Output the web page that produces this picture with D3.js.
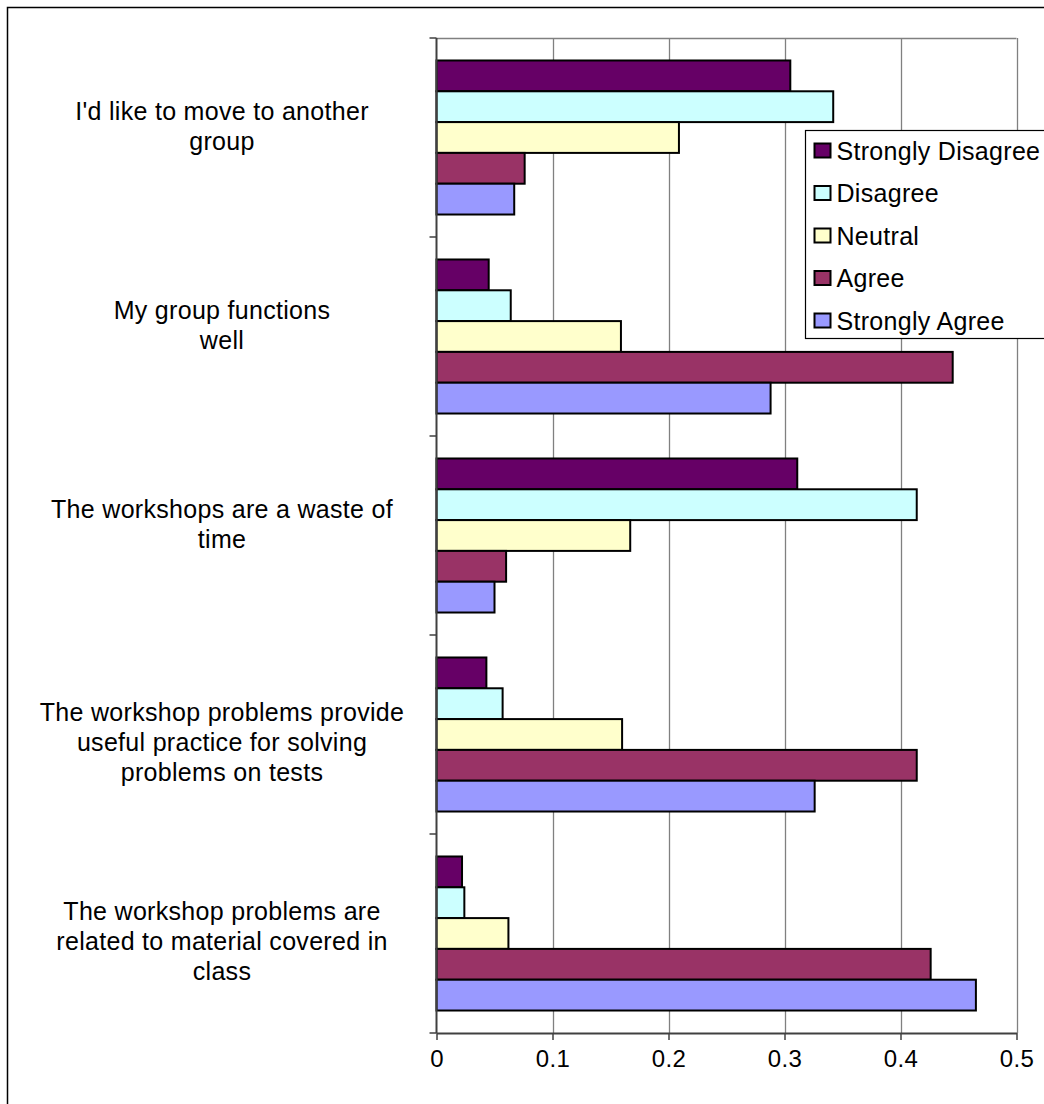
<!DOCTYPE html>
<html>
<head>
<meta charset="utf-8">
<script src="https://cdn.jsdelivr.net/npm/d3@7"></script>
<style>
    body { margin: 0; background: #fff; }
    text { font-family: Arial, "Liberation Sans", sans-serif; fill: #000; }
</style>
</head>
<body>
<div id="chart"></div>
<script>
// DATA
var categories = [
    "I'd like to move to another\ngroup",
    "My group functions\nwell",
    "The workshops are a waste of\ntime",
    "The workshop problems provide\nuseful practice for solving\nproblems on tests",
    "The workshop problems are\nrelated to material covered in\nclass"
];
var seriesNames = ["Strongly Disagree", "Disagree", "Neutral", "Agree", "Strongly Agree"];
var seriesColors = ["#660066", "#CCFFFF", "#FFFFCC", "#993366", "#9999FF"];

// one array per series, same order as categories
var stronglyDisagree = [0.305, 0.045, 0.311, 0.043, 0.022];
var disagree = [0.342, 0.064, 0.414, 0.057, 0.024];
var neutral = [0.209, 0.159, 0.167, 0.160, 0.062];
var agree = [0.076, 0.445, 0.060, 0.414, 0.426];
var stronglyAgree = [0.067, 0.288, 0.050, 0.326, 0.465];

var xTicks = [0, 0.1, 0.2, 0.3, 0.4, 0.5];
var xTickLabels = ["0", "0.1", "0.2", "0.3", "0.4", "0.5"];

function buildRows() {
    var values = [stronglyDisagree, disagree, neutral, agree, stronglyAgree];
    var res = [];
    categories.forEach((c, i) => {
        seriesNames.forEach((s, j) => {
            res.push({ category: c, series: s, value: values[j][i], color: seriesColors[j] });
        });
    });
    return res;
}

function main() {
    var rows = buildRows();

    var svg = d3.select("#chart")
        .append("svg")
        .attr("width", 1044)
        .attr("height", 1104);

    // outer chart border (runs off the right and bottom edges)
    svg.append("rect")
        .attr("x", 7.5)
        .attr("y", 7.5)
        .attr("width", 1060)
        .attr("height", 1110)
        .attr("fill", "none")
        .attr("stroke", "#000")
        .attr("stroke-width", 1.5);

    var left = 436.5, right = 1016.5, top = 38, bottom = 1033;

    var xScale = d3.scaleLinear()
        .domain([0, 0.5])
        .range([left, right]);

    var yScale = d3.scaleBand()
        .domain(categories)
        .range([top, bottom])
        .padding(0);

    var inner = d3.scaleBand()
        .domain(seriesNames)
        .range([0, yScale.bandwidth()])
        .paddingInner(0)
        .paddingOuter(0.73);

    var chart = svg.append("g").classed("chart", true);

    // gridlines
    chart.append("g")
        .selectAll("line")
        .data(xTicks.slice(1))
        .enter()
        .append("line")
        .attr("x1", d => Math.round(xScale(d)) + 0.5)
        .attr("x2", d => Math.round(xScale(d)) + 0.5)
        .attr("y1", top)
        .attr("y2", bottom)
        .attr("stroke", "#808080")
        .attr("stroke-width", 1.3);

    // plot area top border
    chart.append("line")
        .attr("x1", left)
        .attr("x2", right)
        .attr("y1", top + 0.5)
        .attr("y2", top + 0.5)
        .attr("stroke", "#808080")
        .attr("stroke-width", 1.3);

    // bars
    chart.append("g")
        .selectAll("rect")
        .data(rows)
        .enter()
        .append("rect")
        .attr("x", xScale(0))
        .attr("y", d => yScale(d.category) + inner(d.series))
        .attr("width", d => xScale(d.value) - xScale(0))
        .attr("height", inner.bandwidth())
        .attr("fill", d => d.color)
        .attr("stroke", "#000")
        .attr("stroke-width", 2);

    // x axis
    var xAxis = chart.append("g")
        .attr("transform", "translate(0," + bottom + ")")
        .call(d3.axisBottom(xScale)
            .tickValues(xTicks)
            .tickFormat((d, i) => xTickLabels[i])
            .tickSize(7)
            .tickSizeOuter(0)
            .tickPadding(10));
    xAxis.select(".domain").attr("stroke", "#404040").attr("stroke-width", 2);
    xAxis.selectAll(".tick line").attr("stroke", "#404040").attr("stroke-width", 1.5);
    xAxis.selectAll("text")
        .style("font-size", "24px")
        .style("letter-spacing", "0.4px")
        .style("font-family", "Arial, 'Liberation Sans', sans-serif")
        .attr("fill", "#000");

    // y axis: ticks at category boundaries
    var yLine = chart.append("g");
    yLine.append("line")
        .attr("x1", left)
        .attr("x2", left)
        .attr("y1", top)
        .attr("y2", bottom)
        .attr("stroke", "#404040")
        .attr("stroke-width", 2);
    var bounds = categories.map(c => yScale(c)).concat([bottom]);
    yLine.selectAll("line.tick")
        .data(bounds)
        .enter()
        .append("line")
        .attr("class", "tick")
        .attr("x1", left - 7)
        .attr("x2", left)
        .attr("y1", d => d)
        .attr("y2", d => d)
        .attr("stroke", "#404040")
        .attr("stroke-width", 1.5);

    // category labels
    var labels = chart.append("g")
        .selectAll("text")
        .data(categories)
        .enter()
        .append("text")
        .attr("text-anchor", "middle")
        .style("font-size", "25px")
        .style("letter-spacing", "0.3px");
    labels.each(function (c) {
        var lines = c.split("\n");
        var mid = yScale(c) + yScale.bandwidth() / 2;
        var lh = 30;
        // Excel sits the 2-line labels a bit high and the 3-line ones a bit low
        var shift = lines.length === 2 ? -11 : 8;
        var y0 = mid - (lines.length - 1) * lh / 2 + 8 + shift;
        d3.select(this)
            .selectAll("tspan")
            .data(lines)
            .enter()
            .append("tspan")
            .attr("x", 222)
            .attr("y", (d, i) => y0 + i * lh)
            .text(d => d);
    });

    // legend
    var legend = svg.append("g")
        .attr("transform", "translate(805.5,130.5)");
    legend.append("rect")
        .attr("width", 260)
        .attr("height", 208)
        .attr("fill", "#fff")
        .attr("stroke", "#000")
        .attr("stroke-width", 1.2);
    var item = legend.selectAll("g.item")
        .data(seriesNames)
        .enter()
        .append("g")
        .attr("class", "item")
        .attr("transform", (d, i) => "translate(9," + (20 + i * 42.5) + ")");
    item.append("rect")
        .attr("x", 0)
        .attr("y", -7)
        .attr("width", 16)
        .attr("height", 14)
        .attr("fill", (d, i) => seriesColors[i])
        .attr("stroke", "#000")
        .attr("stroke-width", 2);
    item.append("text")
        .attr("x", 22)
        .attr("y", 9)
        .style("font-size", "25px")
        .style("letter-spacing", "0.3px")
        .text(d => d);
}

main();
</script>
</body>
</html>
